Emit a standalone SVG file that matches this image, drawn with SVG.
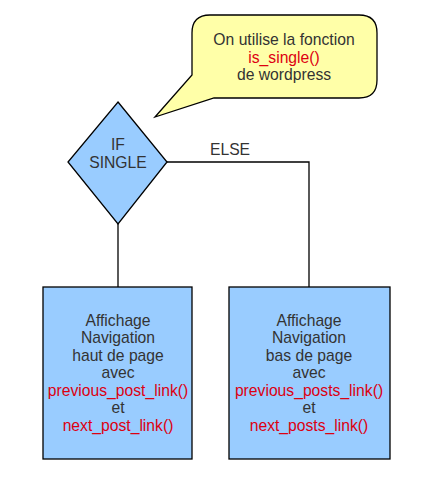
<svg xmlns="http://www.w3.org/2000/svg" width="422" height="477" viewBox="0 0 422 477">
<style>
text{font-family:"Liberation Sans",Arial,sans-serif;font-size:15.7px;fill:#333333;text-anchor:middle}
.r{fill:#dd0011}
.box{fill:#99ccff;stroke:#000;stroke-width:1.3}
.ln{fill:none;stroke:#000;stroke-width:1.3}
</style>
<rect width="422" height="477" fill="#fff"/>
<g id="connectors">
<path class="ln" d="M118 224 V287"/>
<path class="ln" d="M167 162 H309 V287"/>
<text x="230" y="155">ELSE</text>
</g>
<g id="callout">
<path d="M210 15 H359 Q377 15 377 33 V80 Q377 98 359 98 H214 L155 117 L192 75 V33 Q192 15 210 15 Z" fill="#ffffa8" stroke="#000" stroke-width="1.3"/>
<text x="284" y="45">On utilise la fonction</text>
<text x="284" y="63" class="r">is_single()</text>
<text x="284" y="80">de wordpress</text>
</g>
<g id="decision">
<path class="box" d="M118 102 L167 162 L118 224 L68 162 Z"/>
<text x="118" y="150">IF</text>
<text x="118" y="168">SINGLE</text>
</g>
<g id="left-box">
<rect class="box" x="43" y="287" width="149" height="172"/>
<text x="118" y="325.5">Affichage</text>
<text x="118" y="343">Navigation</text>
<text x="118" y="360.5">haut de page</text>
<text x="118" y="378">avec</text>
<text x="118" y="395.5" class="r">previous_post_link()</text>
<text x="118" y="413">et</text>
<text x="118" y="430.5" class="r">next_post_link()</text>
</g>
<g id="right-box">
<rect class="box" x="229" y="287" width="161" height="172"/>
<text x="309" y="325.5">Affichage</text>
<text x="309" y="343">Navigation</text>
<text x="309" y="360.5">bas de page</text>
<text x="309" y="378">avec</text>
<text x="309" y="395.5" class="r">previous_posts_link()</text>
<text x="309" y="413">et</text>
<text x="309" y="430.5" class="r">next_posts_link()</text>
</g>
</svg>
